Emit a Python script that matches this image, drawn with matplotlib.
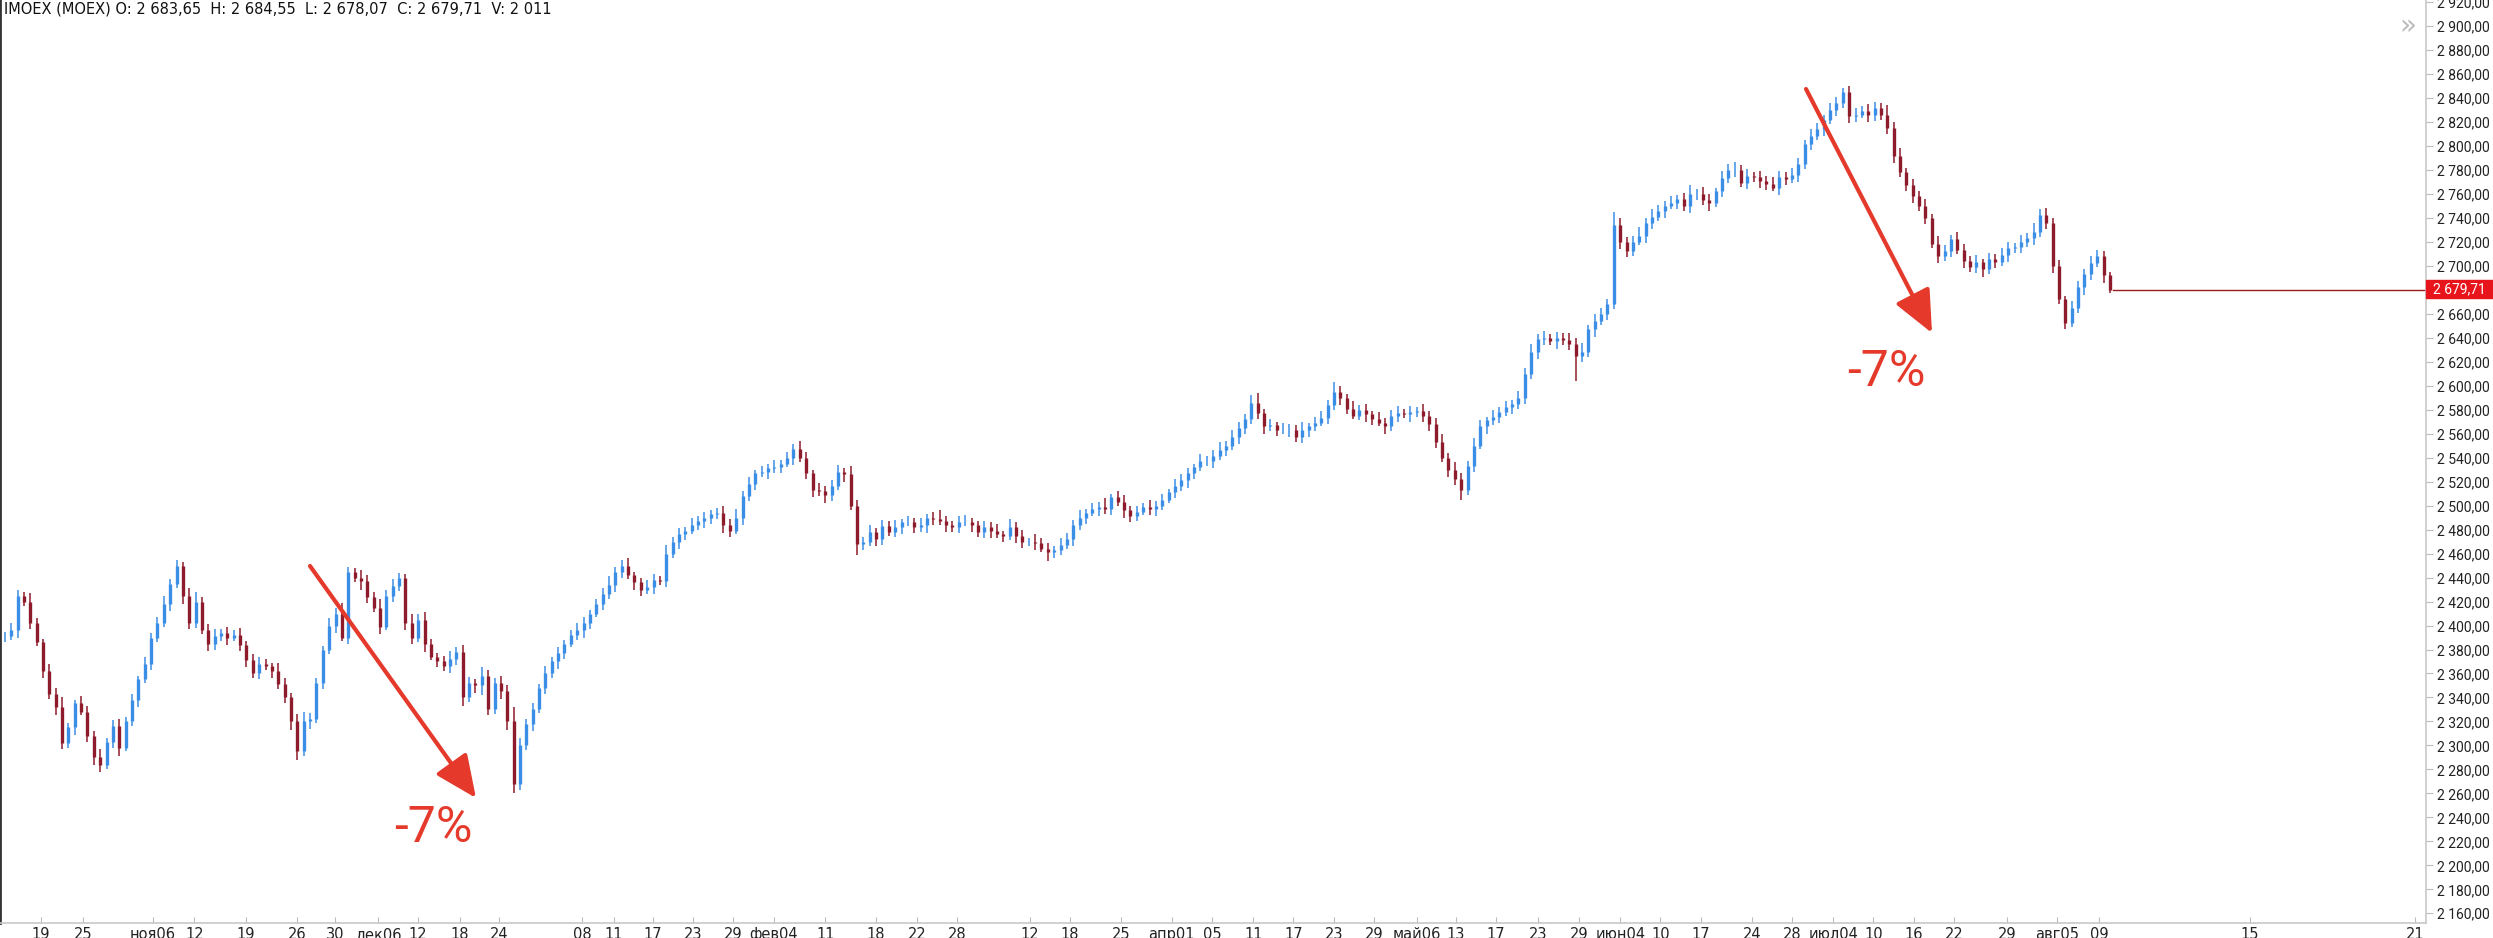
import matplotlib.pyplot as plt
import numpy as np
from matplotlib.patches import FancyArrowPatch, Rectangle

# closing prices, one per bar
closes = [
    2391, 2396, 2425, 2420, 2402, 2386, 2362, 2343, 2332, 2302,
    2315, 2335, 2328, 2308, 2290, 2284, 2303, 2316, 2298, 2320,
    2338, 2355, 2368, 2390, 2402, 2418, 2435, 2450, 2425, 2402,
    2420, 2396, 2385, 2391, 2394, 2390, 2392, 2384, 2371, 2360,
    2368, 2366, 2362, 2351, 2340, 2320, 2295, 2320, 2322, 2352,
    2380, 2400, 2410, 2390, 2445, 2440, 2437, 2424, 2415, 2399,
    2425, 2433, 2440, 2402, 2390, 2405, 2385, 2374, 2370, 2366,
    2372, 2378, 2340, 2352, 2350, 2358, 2330, 2352, 2345, 2320,
    2268, 2300, 2318, 2330, 2348, 2360, 2370, 2377, 2385, 2392,
    2396, 2402, 2410, 2418, 2426, 2434, 2445, 2450, 2442, 2436,
    2430, 2432, 2438, 2437, 2460, 2470, 2476, 2479, 2484, 2487,
    2490, 2493, 2494, 2484, 2479, 2490, 2508, 2518, 2527, 2528,
    2531, 2532, 2535, 2540, 2547, 2540, 2527, 2513, 2512, 2509,
    2516, 2528, 2526, 2500, 2468, 2470, 2478, 2472, 2483, 2478,
    2482, 2486, 2486, 2482, 2484, 2490, 2489, 2487, 2484, 2482,
    2486, 2486, 2484, 2478, 2482, 2479, 2476, 2475, 2482, 2475,
    2470, 2470, 2469, 2464, 2461, 2463, 2467, 2472, 2484, 2490,
    2494, 2497, 2499, 2497, 2507, 2503, 2496, 2491, 2495, 2499,
    2497, 2500, 2505, 2511, 2516, 2521, 2527, 2532, 2537, 2537,
    2541, 2546, 2550, 2557, 2565, 2572, 2586, 2577, 2566, 2567,
    2563, 2563, 2563, 2557, 2563, 2566, 2569, 2573, 2584, 2595,
    2590, 2581, 2575, 2580, 2576, 2572, 2569, 2566, 2575, 2577,
    2576, 2578, 2579, 2575, 2568, 2553, 2540, 2530, 2522, 2513,
    2533, 2550, 2566, 2571, 2574, 2578, 2582, 2585, 2590, 2610,
    2628, 2639, 2640, 2637, 2640, 2638, 2635, 2625, 2628, 2647,
    2654, 2660, 2668, 2734, 2720, 2712, 2720, 2725, 2736, 2741,
    2746, 2750, 2752, 2756, 2750, 2760, 2760, 2755, 2752, 2762,
    2773, 2780, 2780, 2769, 2775, 2774, 2771, 2768, 2765, 2774,
    2772, 2776, 2785, 2802, 2808, 2814, 2822, 2830, 2836, 2845,
    2825, 2826, 2829, 2826, 2832, 2826, 2815, 2792, 2778, 2767,
    2758, 2750, 2740, 2718, 2708, 2712, 2722, 2713, 2704, 2699,
    2703, 2697, 2706, 2703, 2709, 2715, 2716, 2720, 2723, 2728,
    2742, 2736, 2700, 2672, 2652, 2665, 2682, 2693, 2702, 2708,
    2692, 2679.71,
]

# upper / lower shadow length of each bar, points
wick_hi = [
    4, 6, 5, 3, 7, 4, 3, 6, 5, 8, 4, 3, 6, 5, 4, 7, 3, 5, 6, 4,
    5, 3, 6, 4, 5, 7, 4, 5, 3, 6, 8, 4, 5, 6, 3, 5, 4, 6, 3, 5,
    6, 4, 3, 7, 5, 4, 6, 8, 5, 4, 3, 6, 5, 9, 4, 3, 6, 5, 4, 7,
    5, 6, 4, 3, 8, 5, 6, 4, 3, 5, 7, 4, 6, 5, 3, 7, 5, 4, 6, 5,
    12, 6, 4, 5, 3, 6, 4, 5, 3, 4, 6, 5, 3, 4, 5, 7, 4, 5, 6, 3,
    4, 6, 5, 3, 7, 4, 5, 3, 6, 4, 5, 3, 4, 6, 5, 7, 4, 6, 3, 5,
    4, 6, 3, 5, 4, 7, 5, 3, 6, 4, 5, 6, 3, 7, 5, 4, 6, 3, 5, 4,
    6, 3, 5, 4, 6, 3, 5, 7, 4, 3, 5, 6, 4, 3, 5, 4, 6, 3, 7, 4,
    5, 3, 6, 4, 5, 3, 6, 5, 4, 6, 3, 5, 4, 7, 3, 5, 6, 4, 5, 3,
    6, 4, 5, 3, 6, 5, 4, 3, 6, 4, 5, 7, 4, 6, 5, 4, 6, 8, 4, 5,
    3, 6, 5, 4, 7, 3, 5, 6, 4, 8, 5, 3, 6, 4, 5, 3, 6, 4, 5, 6,
    4, 5, 3, 6, 4, 5, 7, 4, 6, 5, 4, 6, 5, 3, 6, 4, 5, 3, 6, 5,
    7, 4, 6, 3, 5, 4, 6, 5, 8, 4, 6, 5, 4, 11, 6, 4, 5, 7, 4, 6,
    5, 4, 6, 3, 5, 7, 4, 6, 5, 3, 6, 5, 7, 4, 6, 3, 5, 4, 6, 5,
    4, 6, 5, 3, 6, 5, 4, 6, 5, 3, 5, 6, 4, 6, 5, 4, 8, 5, 6, 4,
    5, 4, 6, 3, 7, 5, 4, 6, 5, 4, 6, 3, 5, 4, 6, 5, 3, 6, 4, 8,
    5, 6, 4, 5, 3, 6, 5, 4, 6, 5, 4, 3,
]
wick_lo = [
    5, 3, 6, 4, 5, 3, 6, 4, 7, 5, 4, 6, 3, 5, 6, 6, 4, 5, 7, 3,
    4, 6, 3, 5, 4, 3, 6, 4, 7, 5, 4, 3, 6, 5, 4, 6, 3, 5, 6, 4,
    5, 3, 6, 4, 5, 7, 7, 4, 6, 3, 5, 4, 6, 3, 5, 4, 7, 5, 4, 6,
    3, 5, 4, 6, 5, 4, 7, 3, 5, 4, 6, 5, 7, 4, 6, 8, 5, 4, 6, 7,
    8, 5, 4, 6, 3, 5, 4, 6, 5, 3, 4, 6, 5, 3, 5, 4, 6, 5, 3, 6,
    5, 4, 6, 3, 5, 4, 6, 5, 3, 4, 6, 5, 4, 7, 5, 3, 6, 4, 5, 3,
    6, 4, 5, 3, 6, 4, 5, 6, 4, 7, 5, 3, 6, 4, 9, 5, 4, 6, 5, 3,
    4, 6, 3, 5, 4, 7, 5, 3, 6, 4, 5, 3, 6, 4, 5, 6, 3, 5, 4, 6,
    5, 4, 6, 3, 7, 5, 4, 3, 6, 4, 5, 3, 6, 4, 5, 3, 6, 5, 4, 3,
    5, 6, 4, 3, 5, 4, 6, 5, 3, 4, 6, 3, 5, 4, 6, 5, 4, 5, 6, 4,
    5, 3, 6, 4, 5, 6, 4, 3, 5, 4, 6, 5, 3, 4, 6, 5, 3, 6, 4, 5,
    3, 6, 4, 5, 6, 5, 4, 6, 5, 8, 4, 5, 3, 6, 4, 5, 3, 6, 4, 5,
    4, 6, 5, 3, 6, 4, 5, 21, 5, 4, 6, 3, 5, 4, 6, 5, 4, 3, 6, 5,
    4, 6, 3, 5, 4, 6, 5, 4, 6, 3, 5, 4, 6, 3, 5, 4, 6, 5, 3, 6,
    5, 3, 6, 4, 5, 3, 6, 4, 5, 4, 6, 5, 3, 6, 5, 4, 5, 6, 4, 5,
    6, 4, 5, 3, 6, 4, 5, 3, 6, 4, 5, 6, 4, 5, 3, 6, 4, 5, 4, 6,
    4, 5, 6, 4, 5, 3, 4, 6, 5, 3, 6, 2,
]

# date ticks, in bar numbers
tick_pos = [5.7, 12.3, 23.3, 29.8, 37.9, 45.9, 51.9, 58.7, 65.0, 71.6,
            77.7, 90.8, 95.8, 101.9, 108.2, 114.5, 120.9, 129.0, 137.0, 143.4,
            149.7, 161.2, 167.5, 175.5, 183.5, 189.8, 196.3, 202.6, 209.0, 215.3,
            222.0, 228.2, 234.5, 241.1, 247.5, 254.0, 260.3, 266.7, 274.7, 281.0,
            287.5, 293.8, 300.2, 306.5, 314.8, 322.7, 329.3, 353.0, 379.0]
tick_labels = ['19', '25', 'ноя06', '12', '19', '26', '30', 'дек06', '12', '18',
               '24', '08', '11', '17', '23', '29', 'фев04', '11', '18', '22',
               '28', '12', '18', '25', 'апр01', '05', '11', '17', '23', '29',
               'май06', '13', '17', '23', '29', 'июн04', '10', '17', '24', '28',
               'июл04', '10', '16', '22', '29', 'авг05', '09', '15', '21']

price_ticks = np.arange(2160, 2921, 20)
last_price = 2679.71
title = 'IMOEX (MOEX) O: 2 683,65  H: 2 684,55  L: 2 678,07  C: 2 679,71  V: 2 011'

up_col = '#3a8ee6'
down_col = '#8e1b2b'
arrow_col = '#e5392b'

W, H = 2493, 938
fig = plt.figure(figsize=(W / 100, H / 100), dpi=100)
ax = fig.add_axes([0, 15 / H, 2426 / W, 923 / H])

c = np.array(closes, dtype=float)
o = np.r_[c[0], c[:-1]]
hi = np.maximum(o, c) + np.array(wick_hi)
lo = np.minimum(o, c) - np.array(wick_lo)
x = np.arange(len(c))
up = c >= o
for m, col in [(up, up_col), (~up, down_col)]:
    ax.vlines(x[m], lo[m], hi[m], color=col, lw=1.1)
    ax.vlines(x[m], o[m], c[m], color=col, lw=2.4)

# last price line
ax.plot([x[-1] + 0.5, 400], [last_price, last_price], color='#9b1c1c', lw=1.0)

ax.set_xlim(-0.755, 380.7)
ax.set_ylim(2151.9, 2921.7)

ax.set_xticks(tick_pos)
ax.set_xticklabels(tick_labels, family=['Liberation Sans Narrow', 'DejaVu Sans'],
                   fontsize=10.5, color='#222222')
ax.tick_params(axis='x', direction='in', length=4, color='#bbbbbb', pad=3)

ax.yaxis.tick_right()
ax.set_yticks(price_ticks)
ax.set_yticklabels([f'{v:,.2f}'.replace(',', ' ').replace('.', ',') for v in price_ticks],
                   family='Roboto', fontsize=10, color='#222222')
ax.tick_params(axis='y', direction='out', length=5, color='#bbbbbb', pad=3)

ax.spines['top'].set_visible(False)
ax.spines['left'].set_color('#333333')
ax.spines['left'].set_linewidth(2)
ax.spines['bottom'].set_color('#c8c8c8')
ax.spines['bottom'].set_linewidth(1.2)
ax.spines['right'].set_color('#c8c8c8')
ax.spines['right'].set_linewidth(1.2)


def fp(px, py):
    # pixel position (from top-left) to figure fraction
    return (px / W, 1 - py / H)


fig.text(*fp(4, 9), title, family=['Liberation Sans Narrow', 'DejaVu Sans'],
         fontsize=10.5, color='#111111', va='center', ha='left')

# arrows and -7% marks
for (a, b, t) in [((310, 566), (476, 798), (433, 828)),
                  ((1806, 89), (1932, 333), (1886, 372))]:
    arr = FancyArrowPatch(fp(*a), fp(*b), transform=fig.transFigure,
                          arrowstyle='-|>,head_length=1.0,head_width=0.45',
                          mutation_scale=26, lw=3, color=arrow_col,
                          shrinkA=0, shrinkB=0)
    fig.add_artist(arr)
    fig.text(*fp(*t), '-7%', family='Roboto', fontsize=36,
             color=arrow_col, ha='center', va='center')

# last price label
fig.add_artist(Rectangle(fp(2426, 298), 67 / W, 18 / H, transform=fig.transFigure,
                         color='#e8141c', zorder=5))
fig.text(*fp(2459, 289), '2 679,71', family='Roboto', fontsize=10, color='white',
         ha='center', va='center', zorder=6)

fig.text(*fp(2408, 26), '»', fontsize=20, color='#bbbbbb', ha='center', va='center')

fig.savefig('out.png', dpi=100)
